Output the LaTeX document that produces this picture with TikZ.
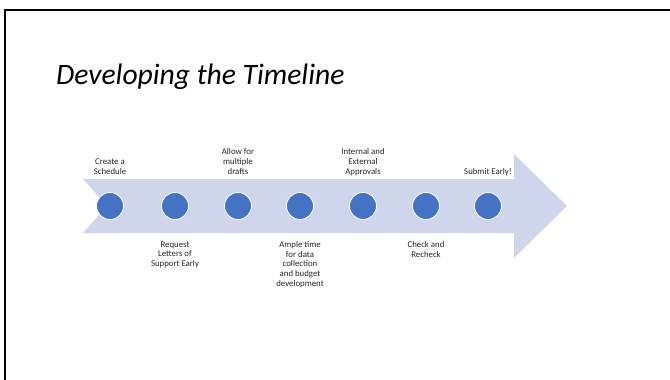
\documentclass[tikz,border=0pt]{standalone}
\usepackage{fontspec}
\setmainfont{Carlito}
\definecolor{bandfill}{HTML}{CFD5EA}
\definecolor{dotfill}{HTML}{4472C4}
\definecolor{labeltext}{HTML}{262626}
\begin{document}
\begin{tikzpicture}[x=1pt,y=-1pt,
  dot/.style={circle,fill=dotfill,draw=white,line width=0.8pt,minimum size=27pt,inner sep=0pt},
  above label/.style={anchor=south,align=center,inner sep=0pt,text depth=0pt,text=labeltext,
    font=\fontsize{8.8}{9.7}\selectfont},
  below label/.style={anchor=north,align=center,inner sep=0pt,text=labeltext,
    font=\fontsize{8.8}{9.7}\selectfont}]
  \useasboundingbox (0,0) rectangle (670,380);
  % slide frame: top and left edges only
  \draw[line width=2pt] (5,380) -- (5,10) -- (670,10);
  % title
  \node[anchor=base west,inner sep=0pt,font=\fontsize{29.6}{34}\selectfont\itshape] (title)
    at (56,84) {Developing the Timeline};
  % notched arrow band
  \fill[bandfill] (83,179) -- (514,179) -- (514,154) -- (567,206) -- (514,258)
    -- (514,233) -- (83,233) -- (107,206) -- cycle;
  % milestones
  \node[dot] (m1) at (110,206) {};
  \node[dot] (m2) at (175,206) {};
  \node[dot] (m3) at (238,206) {};
  \node[dot] (m4) at (300,206) {};
  \node[dot] (m5) at (363,206) {};
  \node[dot] (m6) at (426,206) {};
  \node[dot] (m7) at (488,206) {};
  % labels above the band
  \node[above label] (l1) at (110,174.5) {Create a\\Schedule};
  \node[above label] (l3) at (238,174.5) {Allow for\\multiple\\drafts};
  \node[above label] (l5) at (363,174.5) {Internal and\\External\\Approvals};
  \node[above label] (l7) at (488,174.5) {Submit Early!};
  % labels below the band
  \node[below label] (l2) at (175,241.2) {Request\\Letters of\\Support Early};
  \node[below label] (l4) at (300,241.2) {Ample time\\for data\\collection\\and budget\\development};
  \node[below label] (l6) at (426,241.2) {Check and\\Recheck};
\end{tikzpicture}
\end{document}
